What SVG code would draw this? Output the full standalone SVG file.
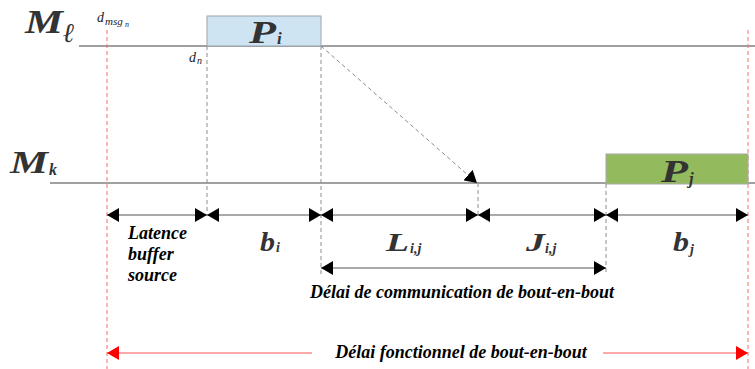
<svg xmlns="http://www.w3.org/2000/svg" width="755" height="369" viewBox="0 0 755 369">
  <defs>
    <marker id="ah" viewBox="0 0 12 14" refX="12" refY="7" markerWidth="12" markerHeight="14" markerUnits="userSpaceOnUse" orient="auto">
      <path d="M0,0 L12,7 L0,14 Z" fill="#000"/>
    </marker>
    <marker id="ahs" viewBox="0 0 12 14" refX="12" refY="7" markerWidth="12" markerHeight="14" markerUnits="userSpaceOnUse" orient="auto-start-reverse">
      <path d="M0,0 L12,7 L0,14 Z" fill="#000"/>
    </marker>
    <marker id="ahr" viewBox="0 0 12 14" refX="12" refY="7" markerWidth="12" markerHeight="14" markerUnits="userSpaceOnUse" orient="auto">
      <path d="M0,0 L12,7 L0,14 Z" fill="#ff0000"/>
    </marker>
  </defs>
  <style>
    .tl { stroke: #808080; stroke-width: 1.3; fill: none; }
    .vd { stroke: #8c8c8c; stroke-width: 1; stroke-dasharray: 4 3; fill: none; }
    .rd { stroke: #ff6b6b; stroke-width: 1; stroke-dasharray: 4 3; fill: none; }
    .dim { stroke: #555; stroke-width: 1; fill: none; }
    text { font-family: 'Liberation Serif', 'DejaVu Serif', serif; font-style: italic; }
    .math { font-weight: bold; fill: #333; }
    .lbl { font-weight: bold; fill: #000; font-size: 18px; }
    .sm { fill: #222; }
  </style>

  <!-- time lines -->
  <g id="lines">
    <line class="tl" x1="79" y1="46" x2="755" y2="46"/>
    <line class="tl" x1="50" y1="183" x2="755" y2="183"/>
    <line class="rd" x1="107" y1="30" x2="107" y2="369"/>
    <line class="rd" x1="748" y1="30" x2="748" y2="369"/>
    <line class="vd" x1="207" y1="46" x2="207" y2="215"/>
    <line class="vd" x1="321" y1="46" x2="321" y2="275"/>
    <line class="vd" x1="478" y1="183" x2="478" y2="215"/>
    <line class="vd" x1="606" y1="184" x2="606" y2="272"/>
  </g>

  <g id="line-labels">
    <text class="math" x="25" y="33" font-size="33" textLength="38" lengthAdjust="spacingAndGlyphs">M</text>
    <text class="math" x="63" y="42" font-size="27">ℓ</text>
    <text class="math" x="10" y="173" font-size="32" textLength="38" lengthAdjust="spacingAndGlyphs">M</text>
    <text class="math" x="49" y="175" font-size="16">k</text>
    <text class="sm" x="97" y="22" font-size="14">d</text>
    <text class="sm" x="105" y="25" font-size="11">msg</text>
    <text class="sm" x="125" y="27" font-size="8">n</text>
    <text class="sm" x="189" y="62" font-size="14">d</text>
    <text class="sm" x="197" y="64" font-size="10">n</text>
  </g>

  <g id="node-pi">
    <rect x="207" y="16" width="114" height="30" fill="#cfe4f3" stroke="#9aa6ae" stroke-width="1"/>
    <text class="math" x="249" y="43" font-size="31" textLength="27" lengthAdjust="spacingAndGlyphs">P</text>
    <text class="math" x="277" y="44" font-size="17">i</text>
  </g>

  <g id="node-pj">
    <rect x="606" y="154" width="142" height="30" fill="#93bb5e" stroke="#a8a8a8" stroke-width="1"/>
    <text class="math" x="661" y="182" font-size="31" textLength="27" lengthAdjust="spacingAndGlyphs">P</text>
    <text class="math" x="689" y="184" font-size="17">j</text>
  </g>

  <g id="connectors">
    <!-- message path -->
    <line class="vd" x1="321" y1="46" x2="477" y2="183" marker-end="url(#ah)"/>
    <!-- dimension arrows -->
    <line class="dim" x1="107" y1="215" x2="207" y2="215" marker-start="url(#ahs)" marker-end="url(#ah)"/>
    <line class="dim" x1="207" y1="215" x2="321" y2="215" marker-start="url(#ahs)" marker-end="url(#ah)"/>
    <line class="dim" x1="321" y1="215" x2="478" y2="215" marker-start="url(#ahs)" marker-end="url(#ah)"/>
    <line class="dim" x1="478" y1="215" x2="606" y2="215" marker-start="url(#ahs)" marker-end="url(#ah)"/>
    <line class="dim" x1="606" y1="215" x2="748" y2="215" marker-start="url(#ahs)" marker-end="url(#ah)"/>
    <line class="dim" x1="321" y1="268" x2="606" y2="268" marker-start="url(#ahs)" marker-end="url(#ah)"/>
    <!-- functional delay -->
    <line x1="312" y1="353" x2="107" y2="353" stroke="#ff5555" stroke-width="1" marker-end="url(#ahr)"/>
    <line x1="603" y1="353" x2="748" y2="353" stroke="#ff5555" stroke-width="1" marker-end="url(#ahr)"/>
  </g>

  <g id="dimension-labels">
    <text class="lbl" x="128" y="239">Latence</text>
    <text class="lbl" x="128" y="260">buffer</text>
    <text class="lbl" x="128" y="281">source</text>
    <text class="math" x="260" y="251" font-size="27" textLength="15" lengthAdjust="spacingAndGlyphs">b</text>
    <text class="math" x="276" y="252" font-size="14">i</text>
    <text class="math" x="386" y="251" font-size="26" textLength="23" lengthAdjust="spacingAndGlyphs">L</text>
    <text class="math" x="410" y="253" font-size="14">i,j</text>
    <text class="math" x="526" y="251" font-size="26" textLength="19" lengthAdjust="spacingAndGlyphs">J</text>
    <text class="math" x="545" y="253" font-size="14">i,j</text>
    <text class="math" x="673" y="251" font-size="27" textLength="16" lengthAdjust="spacingAndGlyphs">b</text>
    <text class="math" x="690" y="254" font-size="14">j</text>
    <text class="lbl" x="462" y="298" text-anchor="middle" font-size="19">Délai de communication de bout-en-bout</text>
    <text class="lbl" x="461" y="358" text-anchor="middle" font-size="19">Délai fonctionnel de bout-en-bout</text>
  </g>
</svg>
